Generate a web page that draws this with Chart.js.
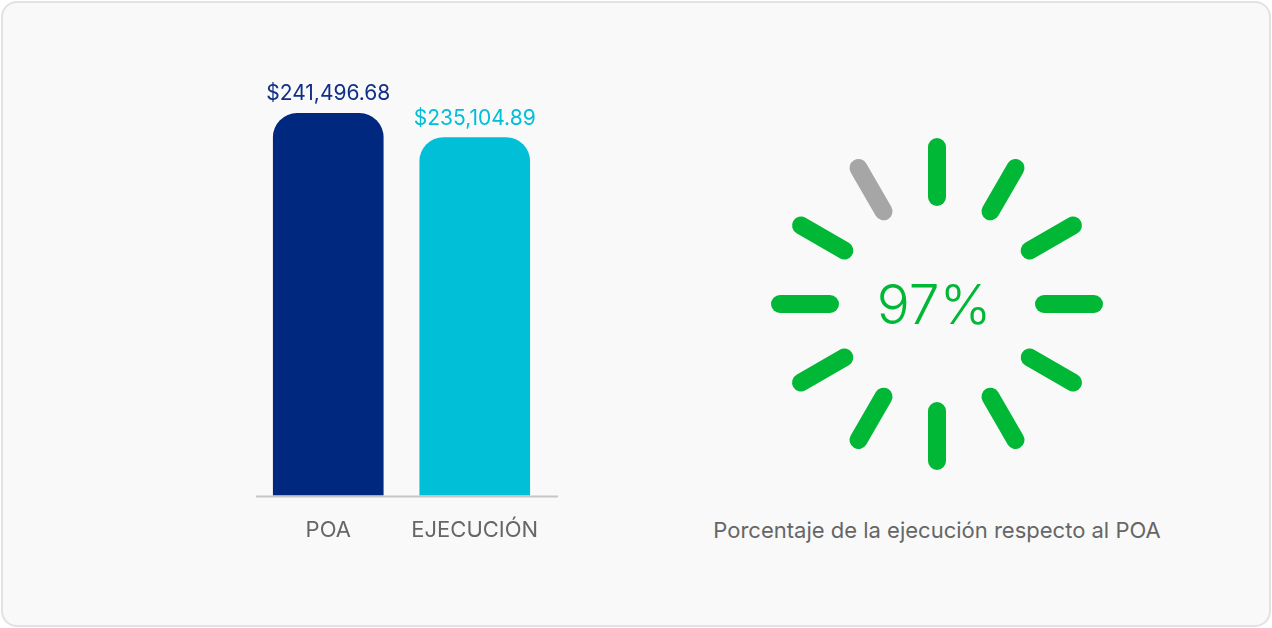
<!DOCTYPE html>
<html>
<head>
<meta charset="utf-8">
<script src="https://cdn.jsdelivr.net/npm/chart.js@4/dist/chart.umd.min.js"></script>
<style>
  html, body { margin:0; padding:0; background:#ffffff; width:1272px; height:628px; overflow:hidden; font-family: Inter, "Open Sans", sans-serif; }
  #card { position:absolute; left:1px; top:1px; width:1270px; height:626px; box-sizing:border-box; border:2px solid #e2e2e2; border-radius:16px; background:#f9f9f9; }
  #barWrap { position:absolute; left:200px; top:40px; width:420px; height:546px; }
  #ringWrap { position:absolute; left:757px; top:124px; width:360px; height:360px; }
  #ringLabel { position:absolute; left:637px; width:600px; top:516px; text-align:center; font-size:22px; color:#666666; font-family: Inter, sans-serif; line-height:28px; }
</style>
</head>
<body>
<div id="card"></div>
<div id="barWrap"><canvas id="bars"></canvas></div>
<div id="ringWrap"><canvas id="ring"></canvas></div>
<div id="ringLabel">Porcentaje de la ejecución respecto al POA</div>
<script>
// ---- data ----
const categories = ["POA", "EJECUCIÓN"];
const amounts = [241496.68, 235104.89];
const amountLabels = ["$241,496.68", "$235,104.89"];
const barColors = ["#00287f", "#00bfd7"];
const labelColors = ["#112f86", "#00bfd7"];
const percentValue = [97];
const percentLabel = ["97%"];
const segmentCount = 12;

// ---- bar chart ----
const barValuePlugin = {
  id: 'barValues',
  afterDatasetsDraw(chart) {
    const ctx = chart.ctx;
    const meta = chart.getDatasetMeta(0);
    ctx.save();
    ctx.font = '400 21px Inter, sans-serif';
    ctx.textAlign = 'center';
    ctx.textBaseline = 'alphabetic';
    meta.data.forEach((bar, i) => {
      ctx.fillStyle = labelColors[i];
      ctx.fillText(amountLabels[i], bar.x, bar.y - 13);
    });
    // axis line
    const a = chart.chartArea;
    ctx.strokeStyle = '#c6c6c6';
    ctx.lineWidth = 2;
    ctx.beginPath();
    ctx.moveTo(a.left + 1, a.bottom + 1);
    ctx.lineTo(a.right + 10, a.bottom + 1);
    ctx.stroke();
    ctx.restore();
  }
};

new Chart(document.getElementById('bars'), {
  type: 'bar',
  data: {
    labels: categories,
    datasets: [{
      data: amounts,
      backgroundColor: barColors,
      borderRadius: 24,
      borderSkipped: 'start',
      barThickness: 110
    }]
  },
  options: {
    responsive: true,
    maintainAspectRatio: false,
    animation: false,
    layout: { padding: { left: 55, right: 72, top: 0, bottom: 20 } },
    plugins: { legend: { display: false }, tooltip: { enabled: false } },
    scales: {
      x: {
        grid: { display: false, drawTicks: false },
        border: { display: false },
        ticks: { color: '#666666', font: { family: 'Inter', size: 22 }, padding: 22 }
      },
      y: { display: false, min: 140000, max: 261000 }
    }
  },
  plugins: [barValuePlugin]
});

// ---- radial percentage ring ----
const greenCount = Math.floor(percentValue[0] / 100 * segmentCount);
const innerR = 107, outerR = 157;
const ringDatasets = [];
for (let i = 0; i < segmentCount; i++) {
  const t = i * 2 * Math.PI / segmentCount;
  ringDatasets.push({
    data: [
      { x: innerR * Math.sin(t), y: innerR * Math.cos(t) },
      { x: outerR * Math.sin(t), y: outerR * Math.cos(t) }
    ],
    showLine: true,
    borderColor: i < greenCount ? '#00b836' : '#a6a6a6',
    borderWidth: 18,
    borderCapStyle: 'round',
    pointRadius: 0,
    pointHoverRadius: 0
  });
}

const centerTextPlugin = {
  id: 'centerText',
  afterDraw(chart) {
    const ctx = chart.ctx;
    const a = chart.chartArea;
    const cx = (a.left + a.right) / 2, cy = (a.top + a.bottom) / 2;
    ctx.save();
    ctx.font = '300 55px Inter, sans-serif';
    ctx.fillStyle = '#00b836';
    ctx.textAlign = 'center';
    ctx.textBaseline = 'alphabetic';
    const m = ctx.measureText(percentLabel[0]);
    const y = cy + (m.actualBoundingBoxAscent - m.actualBoundingBoxDescent) / 2;
    ctx.fillText(percentLabel[0], cx - 3, y);
    ctx.restore();
  }
};

new Chart(document.getElementById('ring'), {
  type: 'scatter',
  data: { datasets: ringDatasets },
  options: {
    responsive: true,
    maintainAspectRatio: false,
    animation: false,
    layout: { padding: 0 },
    plugins: { legend: { display: false }, tooltip: { enabled: false } },
    scales: {
      x: { display: false, min: -180, max: 180 },
      y: { display: false, min: -180, max: 180 }
    }
  },
  plugins: [centerTextPlugin]
});
</script>
</body>
</html>
